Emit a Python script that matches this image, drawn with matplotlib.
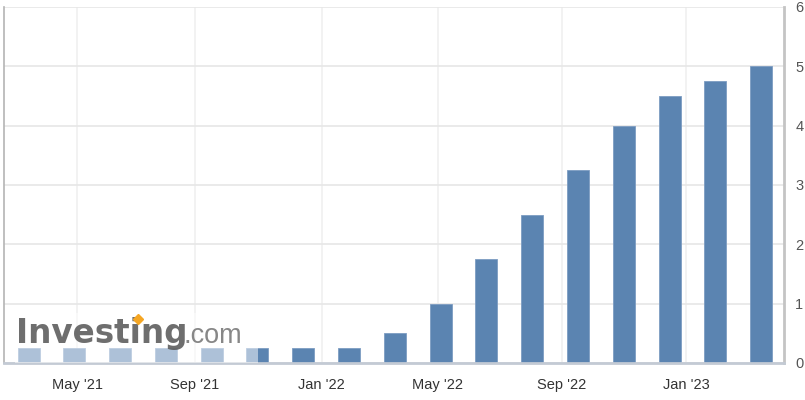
import numpy as np
import matplotlib
matplotlib.use("Agg")
import matplotlib.pyplot as plt
from matplotlib.patches import Rectangle
from matplotlib.lines import Line2D

# FOMC meeting dates and the upper bound of the target rate (%)
meeting_dates = [
    "2021-03-17", "2021-04-28", "2021-06-16", "2021-07-28", "2021-09-22",
    "2021-11-03", "2021-12-15", "2022-01-26", "2022-03-16", "2022-05-04",
    "2022-06-15", "2022-07-27", "2022-09-21", "2022-11-02", "2022-12-14",
    "2023-02-01", "2023-03-22",
]
rates = [0.25, 0.25, 0.25, 0.25, 0.25, 0.25, 0.25, 0.25,
         0.5, 1.0, 1.75, 2.5, 3.25, 4.0, 4.5, 4.75, 5.0]

tick_dates = ["2021-05-01", "2021-09-01", "2022-01-01",
              "2022-05-01", "2022-09-01", "2023-01-01"]
tick_labels = ["May '21", "Sep '21", "Jan '22", "May '22", "Sep '22", "Jan '23"]
y_ticks = [0, 1, 2, 3, 4, 5, 6]

BAR = "#5b84b1"
plt.rcParams["font.family"] = ["Liberation Sans", "DejaVu Sans"]

fig = plt.figure(figsize=(8.05, 4.0), dpi=100)
ax = fig.add_axes([0.005, 0.0925, 0.969, 0.89])

# bars sit on an index axis; month ticks are placed between meetings
idx = np.arange(len(rates))
md = np.array(meeting_dates, dtype="datetime64[D]").astype(float)
td = np.array(tick_dates, dtype="datetime64[D]").astype(float)
tick_pos = np.interp(td, md, idx)

ax.bar(idx, rates, width=0.48, color=BAR, edgecolor="#7d9cc2",
       linewidth=0.6, zorder=3)

ax.set_xlim(-0.535, 16.5)
ax.set_ylim(0, 6)
ax.set_yticks(y_ticks)
ax.set_xticks(tick_pos)
ax.set_xticklabels(tick_labels)
ax.yaxis.tick_right()
ax.tick_params(axis="both", length=0, labelsize=10.5)
ax.tick_params(axis="x", pad=11, colors="#333333")
ax.tick_params(axis="y", pad=8, colors="#555555")

ax.grid(axis="y", color="#e6e6e6", linewidth=1.2, zorder=0)
ax.grid(axis="x", color="#f0f0f0", linewidth=1.2, zorder=0)

ax.spines["top"].set_visible(False)
ax.spines["left"].set_color("#b4b4b4")
ax.spines["left"].set_linewidth(1.2)
ax.spines["right"].set_color("#c4c4c4")
ax.spines["right"].set_linewidth(2)
ax.spines["bottom"].set_color("#c3cad4")
ax.spines["bottom"].set_linewidth(2)
ax.spines["bottom"].set_zorder(4)

# watermark box + logo
fig.patches.append(Rectangle((15 / 805, 37 / 400), 243 / 805, 50 / 400,
                             transform=fig.transFigure, facecolor="white",
                             alpha=0.5, edgecolor="none", zorder=5))
fig.text(16 / 805, 57 / 400, "Investing", fontsize=23.5, fontweight="bold",
         family="DejaVu Sans", color="#5a5a5a", alpha=0.88, zorder=6)
fig.text(183 / 805, 57 / 400, ".com", fontsize=19.5, color="#777777",
         alpha=0.88, zorder=6)
# orange accent over the "i"
fig.add_artist(Line2D([138 / 805], [81 / 400], transform=fig.transFigure,
                      marker="D", markersize=5, color="#f5a623",
                      linestyle="none", zorder=7))

fig.savefig("out.png", dpi=100)
